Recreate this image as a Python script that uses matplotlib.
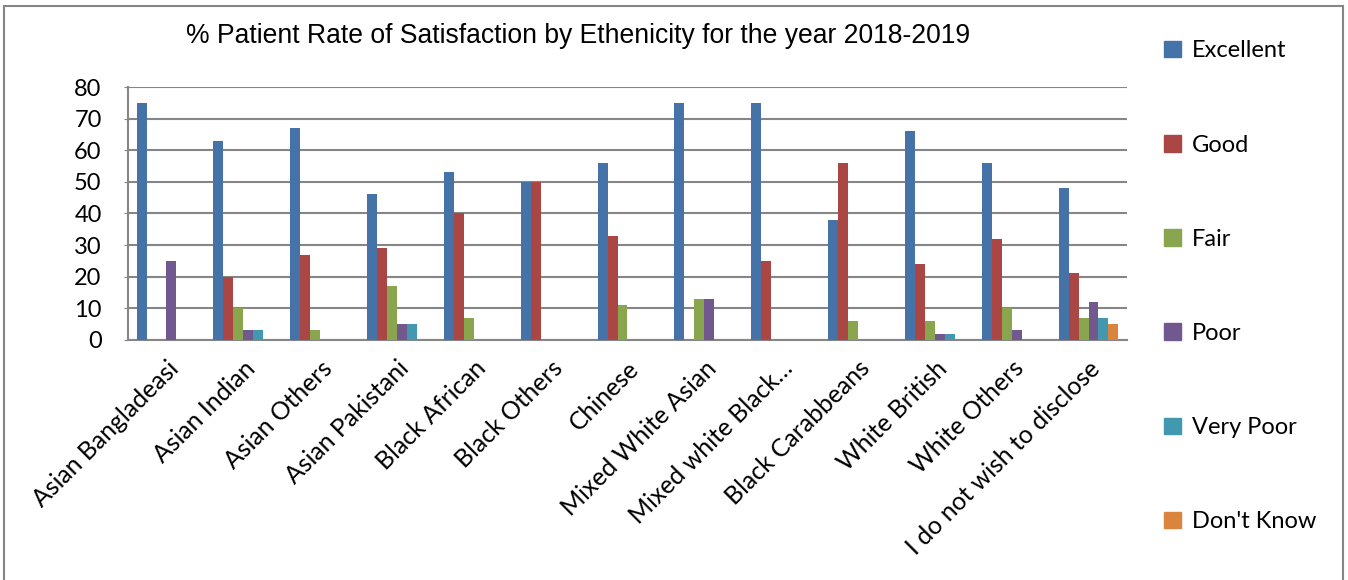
import matplotlib.pyplot as plt
import matplotlib.patches as mpatches
import numpy as np

# categories and rating series (% of patients)
ethnicities = ['Asian Bangladeasi', 'Asian Indian', 'Asian Others', 'Asian Pakistani',
               'Black African', 'Black Others', 'Chinese', 'Mixed White Asian',
               'Mixed white Black\u2026', 'Black Carabbeans', 'White British',
               'White Others', 'I do not wish to disclose']
excellent = [75, 63, 67, 46, 53, 50, 56, 75, 75, 38, 66, 56, 48]
good = [0, 20, 27, 29, 40, 50, 33, 0, 25, 56, 24, 32, 21]
fair = [0, 10, 3, 17, 7, 0, 11, 13, 0, 6, 6, 10, 7]
poor = [25, 3, 0, 5, 0, 0, 0, 13, 0, 0, 2, 3, 12]
very_poor = [0, 3, 0, 5, 0, 0, 0, 0, 0, 0, 2, 0, 7]
dont_know = [0, 0, 0, 0, 0, 0, 0, 0, 0, 0, 0, 0, 5]

series_names = ['Excellent', 'Good', 'Fair', 'Poor', 'Very Poor', "Don't Know"]
series = [excellent, good, fair, poor, very_poor, dont_know]
colors = ['#4572A7', '#AA4643', '#89A54E', '#71588F', '#4198AF', '#DB843D']

label_font = ['Lato', 'DejaVu Sans']
plt.rcParams['font.family'] = label_font

fig = plt.figure(figsize=(13.48, 5.80), dpi=100)
ax = fig.add_axes([0.095, 0.414, 0.741, 0.436])

x = np.arange(len(ethnicities))
width = 0.13
for i, (vals, col) in enumerate(zip(series, colors)):
    offs = (i - 2.5) * width
    ax.bar(x + offs, vals, width, color=col, label=series_names[i], zorder=3)

ax.set_xlim(-0.5, len(ethnicities) - 0.5)
ax.set_ylim(0, 80)
ax.set_yticks(range(0, 81, 10))
ax.yaxis.grid(True, color='#868686', linewidth=1.5, zorder=0)
ax.tick_params(axis='y', labelsize=17, length=3, color='#868686', pad=16)
ax.tick_params(axis='x', length=0, labelsize=17.8, pad=12)
ax.set_xticks(x)
ax.set_xticklabels(ethnicities, rotation=45, ha='right', rotation_mode='anchor')

for side in ['top', 'right']:
    ax.spines[side].set_visible(False)
ax.spines['left'].set_color('#868686')
ax.spines['left'].set_linewidth(1.5)
ax.spines['bottom'].set_color('#868686')
ax.spines['bottom'].set_linewidth(1.5)

fig.text(0.429, 0.938, '% Patient Rate of Satisfaction by Ethenicity for the year 2018-2019',
         ha='center', va='center', fontsize=19.1, family=['Liberation Sans', 'DejaVu Sans'])

handles = [mpatches.Patch(color=c, label=n) for c, n in zip(colors, series_names)]
fig.legend(handles=handles, loc='upper left', bbox_to_anchor=(0.848, 0.967),
           frameon=False, handlelength=0.7, handleheight=0.7,
           handletextpad=0.45, labelspacing=3.1, prop={'family': label_font, 'size': 17})

# outer chart border
fig.patches.append(mpatches.Rectangle((0.003, -0.01), 0.993, 1.0, transform=fig.transFigure,
                                      fill=False, edgecolor='#868686', linewidth=1.5))

fig.savefig('out.png', dpi=100)
